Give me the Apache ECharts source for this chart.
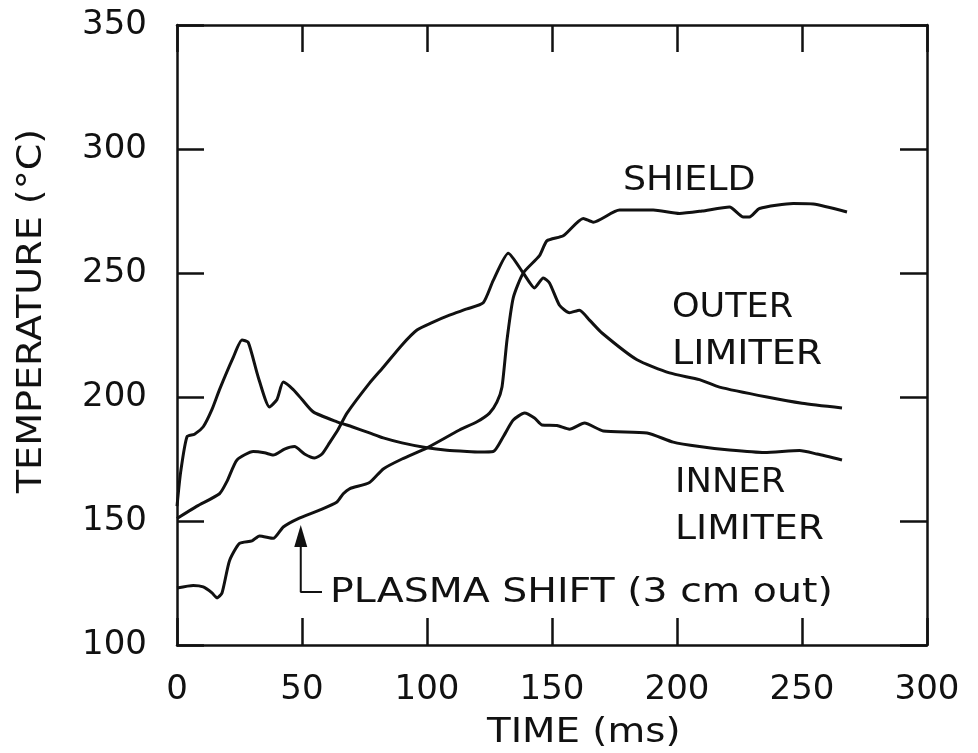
<!DOCTYPE html>
<html>
<head>
<meta charset="utf-8">
<script src="https://cdn.jsdelivr.net/npm/echarts@6/dist/echarts.min.js"></script>
<style>
  html, body { margin: 0; padding: 0; background: #fff; }
  #main { width: 978px; height: 753px; }
</style>
</head>
<body>
<div id="main"></div>
<script>
// [time ms, temperature C]
const innerLimiter = [
  [0, 156], [1.5, 170], [4, 184], [7, 185], [10.5, 188], [14, 195], [17, 203], [22.5, 216],
  [26, 223], [28.5, 222], [32.5, 208], [37, 196], [40, 199], [42.5, 206], [46.5, 203],
  [50, 199], [54.5, 194], [64, 190], [70, 188], [77, 185.5], [82.5, 183.5], [90, 181.5],
  [100, 179.5], [108, 178.5], [116, 178], [121, 177.8], [126.5, 178], [130.5, 184],
  [134.5, 190.7], [139, 193.5], [143, 191.5], [146, 188.7], [152, 188.5], [157, 187],
  [163, 189.5], [170.5, 186.3], [188, 185.5], [198.5, 181.8], [209, 180], [221, 178.6],
  [235, 177.6], [249, 178.4], [256, 177], [266, 174.6]
];
const outerLimiter = [
  [0, 151], [8, 156], [17, 161], [20, 166], [24, 174.6], [30.5, 178], [35, 177.5],
  [38.5, 176.6], [43, 179], [47, 180], [51, 177], [55, 175.4], [58, 177], [61, 181.5],
  [64.5, 187], [68, 193.5], [77, 205.6], [82.5, 212], [90, 221], [96, 227], [102, 230],
  [109, 233], [116, 235.5], [122.5, 238], [126.5, 247], [132.5, 258], [138.5, 250],
  [143, 244], [146.5, 248], [149, 246], [153, 237], [157, 234], [161, 235], [165, 231],
  [170, 225.8], [184, 215], [197, 209.7], [209, 207], [217, 204], [236, 200], [250, 197.5],
  [266, 195.6]
];
const shield = [
  [0, 123], [6.5, 124], [10.5, 123.4], [14, 121], [16, 119], [18, 121], [21, 134], [25, 141],
  [30, 142], [33, 144], [38.5, 143], [42.5, 147.6], [48.5, 151], [57, 154.4], [64, 157.7],
  [66.5, 161], [69, 163], [77, 165.5], [82.5, 171], [90, 175], [100, 179.5], [113, 186.7],
  [120, 190], [125, 193.5], [128, 198], [130, 204], [132, 223], [134.5, 240], [138.5, 250],
  [145, 257], [148, 263], [154.5, 265], [162.5, 272], [166.5, 270.5], [177, 275.4],
  [190.5, 275.4], [201, 274], [210, 275], [221, 276.6], [226.5, 272.6], [229, 272.6],
  [233, 276], [246.5, 278], [254.5, 277.8], [268, 274.6]
];
// arrow marking the plasma shift
const shiftArrow = [[49.5, 144], [49.5, 121.4], [58, 121.4]];

const xTicks = [0, 50, 100, 150, 200, 250, 300];
const yTicks = [100, 150, 200, 250, 300, 350];

const FONT = "DejaVu Sans";
const INK = "#111";

const chart = echarts.init(document.getElementById("main"), null, { renderer: "canvas" });

const axisLine = { show: true, onZero: false, lineStyle: { color: INK, width: 2.5 } };
const axisTick = { show: true, inside: true, length: 27, lineStyle: { color: INK, width: 2.5 } };

// lettering in the original is wider than DejaVu, so stretch it a little
function label(text, x, y, sx, extra) {
  return Object.assign({
    type: "text", x, y, scaleX: sx,
    style: { text, font: `34px '${FONT}'`, fill: INK, align: "left", verticalAlign: "middle" },
  }, extra || {});
}

const option = {
  backgroundColor: "#fff",
  animation: false,
  grid: { left: 177, right: 51, top: 25, bottom: 108 },
  xAxis: [
    {
      type: "value", min: xTicks[0], max: xTicks[xTicks.length - 1], interval: 50,
      position: "bottom", axisLine, axisTick, splitLine: { show: false },
      axisLabel: { margin: 28, color: INK, fontFamily: FONT, fontSize: 34 },
    },
    {
      type: "value", min: xTicks[0], max: xTicks[xTicks.length - 1], interval: 50,
      position: "top", axisLine, axisTick, splitLine: { show: false }, axisLabel: { show: false },
    },
  ],
  yAxis: [
    {
      type: "value", min: yTicks[0], max: yTicks[yTicks.length - 1], interval: 50,
      position: "left", axisLine, axisTick, splitLine: { show: false },
      axisLabel: { margin: 30, color: INK, fontFamily: FONT, fontSize: 34 },
    },
    {
      type: "value", min: yTicks[0], max: yTicks[yTicks.length - 1], interval: 50,
      position: "right", axisLine, axisTick, splitLine: { show: false }, axisLabel: { show: false },
    },
  ],
  series: [
    { name: "INNER LIMITER", type: "line", data: innerLimiter, smooth: 0.2, showSymbol: false,
      lineStyle: { color: INK, width: 3 } },
    { name: "OUTER LIMITER", type: "line", data: outerLimiter, smooth: 0.2, showSymbol: false,
      lineStyle: { color: INK, width: 3 } },
    { name: "SHIELD", type: "line", data: shield, smooth: 0.2, showSymbol: false,
      lineStyle: { color: INK, width: 3 } },
    {
      name: "shift", type: "line", showSymbol: true, symbol: "none",
      lineStyle: { color: INK, width: 2 },
      data: shiftArrow.map((p, i) => i === 0
        ? { value: p, symbol: "triangle", symbolSize: [13, 22], itemStyle: { color: INK } }
        : { value: p }),
    },
  ],
  graphic: [
    label("SHIELD", 623, 181, 1.07),
    label("OUTER", 672, 308, 1.03),
    label("LIMITER", 672, 355, 1.12),
    label("INNER", 675, 483, 1.04),
    label("LIMITER", 675, 530, 1.11),
    label("PLASMA SHIFT (3 cm out)", 330, 593, 1.16),
    label("TIME (ms)", 487, 733, 1.14),
    {
      type: "text", x: 32, y: 311, rotation: Math.PI / 2, scaleX: 1.12,
      style: { text: "TEMPERATURE (°C)", font: `34px '${FONT}'`, fill: INK,
        align: "center", verticalAlign: "middle" },
    },
  ],
};

chart.setOption(option, true);
</script>
</body>
</html>
